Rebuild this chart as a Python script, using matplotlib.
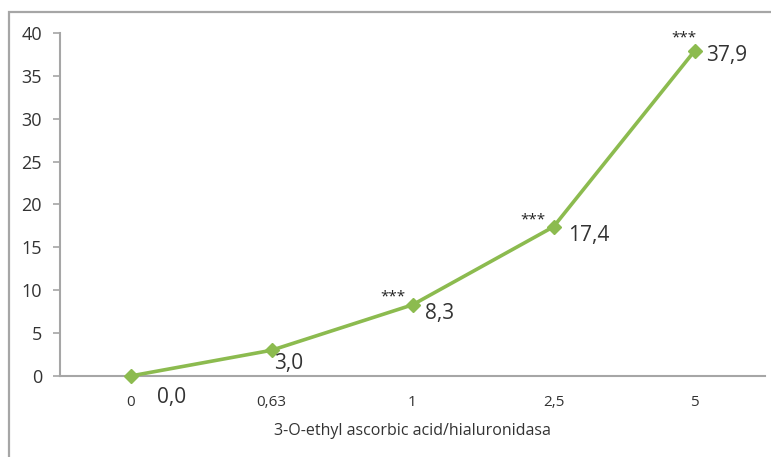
import matplotlib.pyplot as plt
from matplotlib.patches import Rectangle

categories = ['0', '0,63', '1', '2,5', '5']
values = [0.0, 3.0, 8.3, 17.4, 37.9]
value_labels = ['0,0', '3,0', '8,3', '17,4', '37,9']
stars = ['', '', '***', '***', '***']
# label offsets in pixels (dx, dy) relative to each point
label_offsets = [(27, -21), (3, -13), (13, -9), (15, -9), (12, -4)]
star_offsets = [(0, 0), (0, 0), (-20, 8), (-21, 7), (-11, 13)]

green = '#8cbb4f'
grey = '#a6a6a6'
text_col = '#333333'

plt.rcParams['font.family'] = ['Open Sans', 'DejaVu Sans']

fig = plt.figure(figsize=(7.71, 4.57), dpi=100)
ax = fig.add_axes([60 / 771, 81 / 457, 705 / 771, 343 / 457])

# outer frame (cut off at the right and bottom in the reference)
fig.patches.append(Rectangle((9 / 771, -0.1), 1.2, 1.1 - 12 / 457,
                             transform=fig.transFigure, fill=False,
                             edgecolor=grey, linewidth=1.6))

x = list(range(len(categories)))
ax.plot(x, values, color=green, linewidth=2.6, marker='D', markersize=7,
        markerfacecolor=green, markeredgecolor=green, zorder=3, clip_on=False)

px = 72 / fig.dpi
for i, (v, lab) in enumerate(zip(values, value_labels)):
    dx, dy = label_offsets[i]
    ax.annotate(lab, (i, v), xytext=(dx * px, dy * px), textcoords='offset points',
                ha='left', va='center', fontsize=15, color=text_col)
    if stars[i]:
        sx, sy = star_offsets[i]
        ax.annotate(stars[i], (i, v), xytext=(sx * px, sy * px), textcoords='offset points',
                    ha='center', va='center', fontsize=11, color='#222222')

ax.set_xlim(-0.5, len(categories) - 0.5)
ax.set_ylim(0, 40)
ax.set_yticks(range(0, 41, 5))
ax.set_xticks(x)
ax.set_xticklabels(categories)

for s in ['top', 'right']:
    ax.spines[s].set_visible(False)
for s in ['left', 'bottom']:
    ax.spines[s].set_color(grey)
    ax.spines[s].set_linewidth(1.5)

ax.tick_params(axis='y', direction='out', length=5, width=1.2, color=grey,
               labelsize=13, labelcolor=text_col, pad=8)
ax.tick_params(axis='x', length=0, labelsize=11, labelcolor=text_col, pad=14)
ax.set_xlabel('3-O-ethyl ascorbic acid/hialuronidasa', fontsize=11.5, color=text_col, labelpad=9)

fig.savefig('out.png', dpi=100)
